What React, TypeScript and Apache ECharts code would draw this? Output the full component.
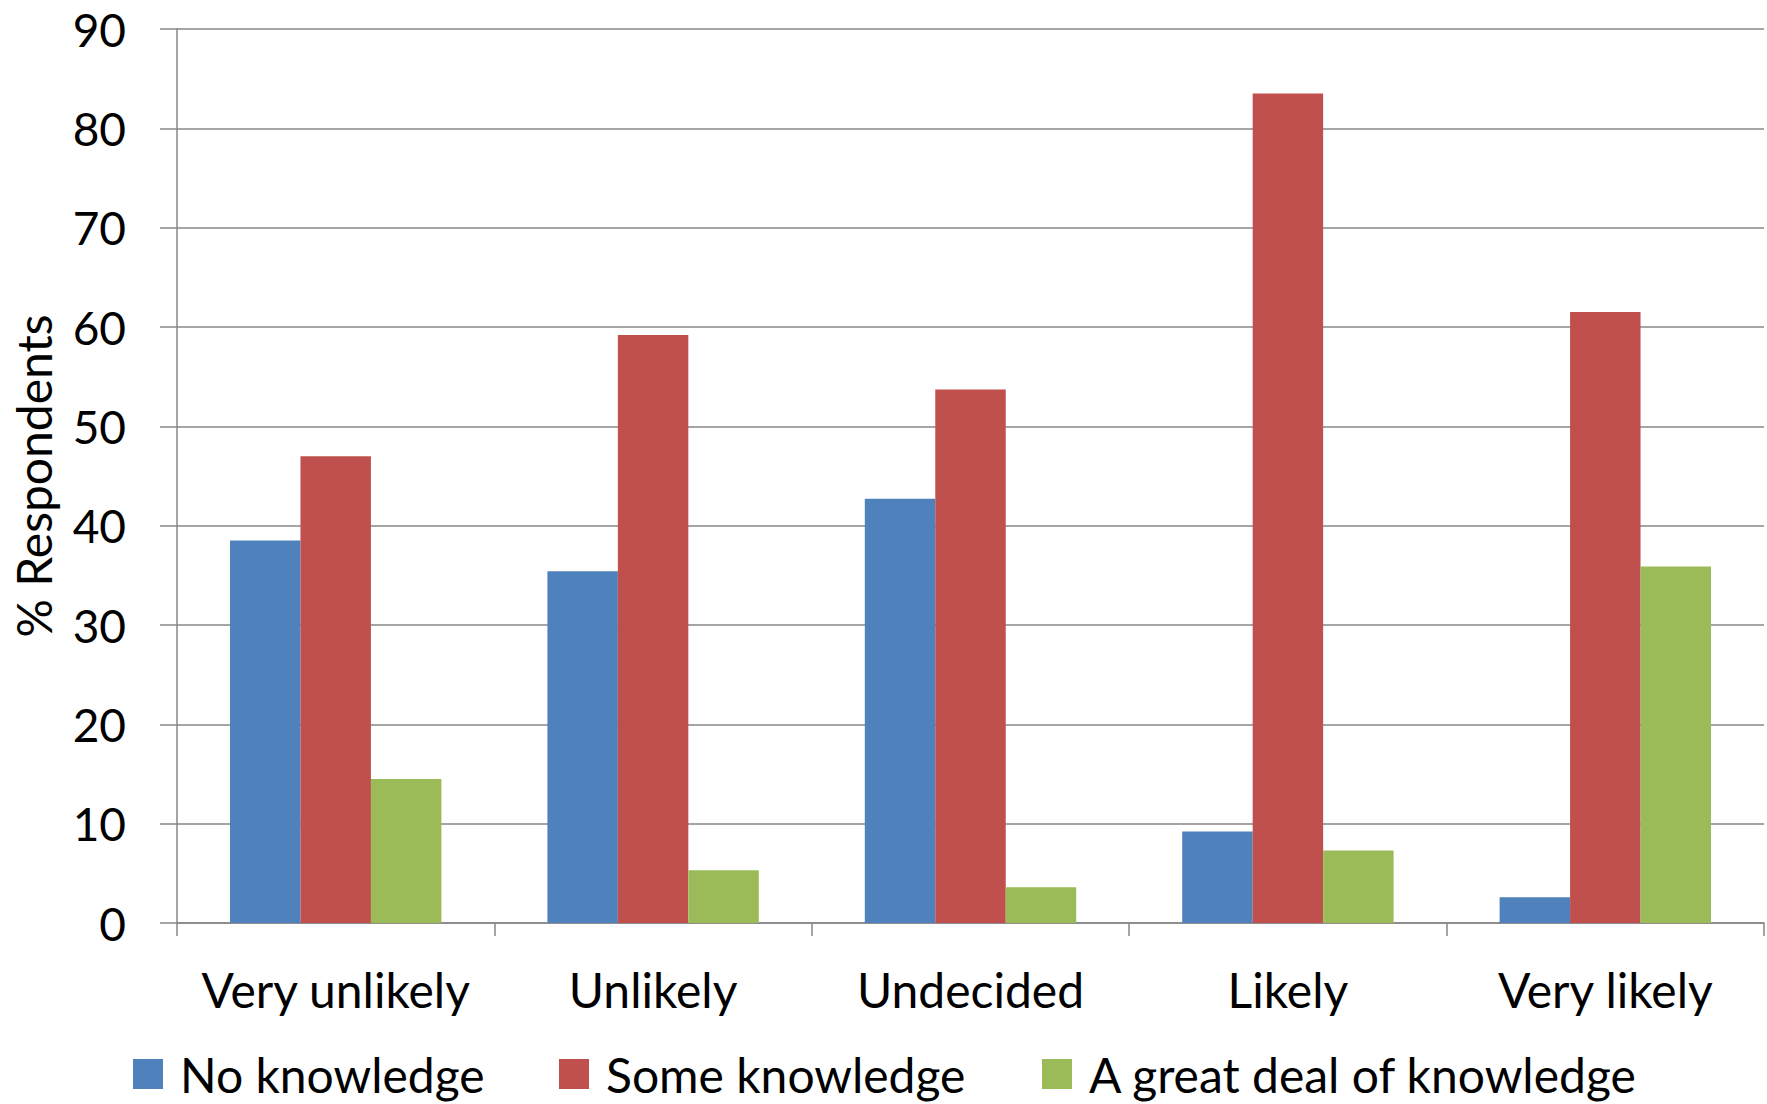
import React, { useEffect, useRef } from "react";
import * as echarts from "echarts";

const categories = ["Very unlikely", "Unlikely", "Undecided", "Likely", "Very likely"];
const seriesNames = ["No knowledge", "Some knowledge", "A great deal of knowledge"];
const noKnowledge = [38.5, 35.4, 42.7, 9.2, 2.6];
const someKnowledge = [47.0, 59.2, 53.7, 83.5, 61.5];
const greatDeal = [14.5, 5.3, 3.6, 7.3, 35.9];
const seriesColors = ["#4F81BD", "#C0504D", "#9BBB59"];
const yTicks = { min: 0, max: 90, interval: 10 };

const FONT = "Lato";
const WEIGHT = 400;
const AXIS_GRAY = "#878787";

export default function App() {
  const ref = useRef<HTMLDivElement>(null);
  useEffect(() => {
    if (!ref.current) return;
    const chart = echarts.init(ref.current, null, { renderer: "svg" });
    const values = [noKnowledge, someKnowledge, greatDeal];
    const legendLefts = [133, 559, 1042];
    chart.setOption({
      animation: false,
      backgroundColor: "#ffffff",
      textStyle: { fontFamily: FONT, color: "#000" },
      grid: { left: 177, right: 3, top: 29, bottom: 181, containLabel: false },
      legend: seriesNames.map((n, i) => ({
        data: [n],
        left: legendLefts[i],
        top: 1050,
        padding: 0,
        itemWidth: 30,
        itemHeight: 30,
        icon: "rect",
        textStyle: { fontFamily: FONT, fontWeight: WEIGHT, fontSize: 48, color: "#000", padding: [0, 0, 0, 12] },
        selectedMode: false,
      })),
      xAxis: {
        type: "category",
        data: categories,
        axisLine: { show: true, lineStyle: { color: AXIS_GRAY, width: 1.5 } },
        axisTick: { show: true, interval: 0, length: 13, lineStyle: { color: AXIS_GRAY, width: 1.5 } },
        axisLabel: { interval: 0, fontFamily: FONT, fontWeight: WEIGHT, fontSize: 48, color: "#000", margin: 42 },
      },
      yAxis: {
        type: "value",
        min: yTicks.min,
        max: yTicks.max,
        interval: yTicks.interval,
        name: "% Respondents",
        nameLocation: "middle",
        nameGap: 120,
        nameRotate: 90,
        nameTextStyle: { fontFamily: FONT, fontWeight: WEIGHT, fontSize: 48, color: "#000" },
        axisLine: { show: true, lineStyle: { color: AXIS_GRAY, width: 1.5 } },
        axisTick: { show: true, length: 17, lineStyle: { color: AXIS_GRAY, width: 1.5 } },
        splitLine: { show: true, lineStyle: { color: AXIS_GRAY, width: 1.5 } },
        axisLabel: { fontFamily: FONT, fontWeight: WEIGHT, fontSize: 46, color: "#000", margin: 51 },
      },
      series: seriesNames.map((n, i) => ({
        name: n,
        type: "bar",
        data: values[i],
        barGap: "0%",
        barCategoryGap: "33.4%",
        itemStyle: { color: seriesColors[i] },
      })),
    });
    return () => chart.dispose();
  }, []);
  return (
    <div
      ref={ref}
      style={{ position: "fixed", left: 0, top: 0, width: 1767, height: 1104 }}
    />
  );
}
